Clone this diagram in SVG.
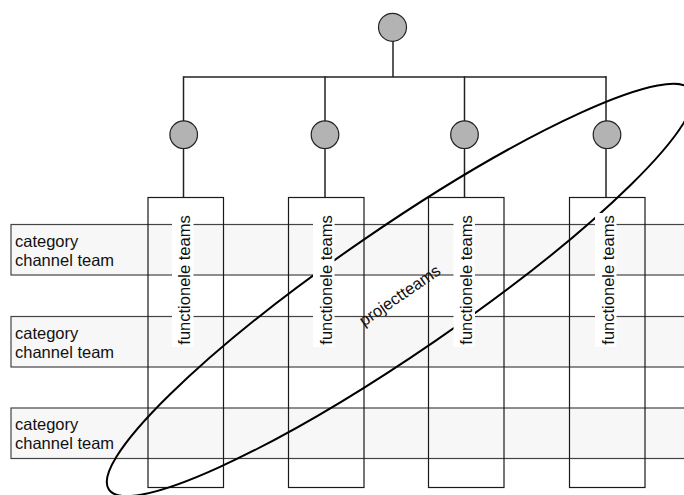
<svg xmlns="http://www.w3.org/2000/svg" width="684" height="495" viewBox="0 0 684 495">
  <style>
    .band { fill: #f7f7f7; stroke: #444; stroke-width: 1.2; }
    .box { fill: none; stroke: #1a1a1a; stroke-width: 1.2; }
    .conn { fill: none; stroke: #222; stroke-width: 1.5; }
    .dot { fill: #b3b3b3; stroke: #222; stroke-width: 1.2; }
    .lbl { font-family: "Liberation Sans", Arial, sans-serif; font-size: 16.5px; fill: #111; }
    .vbg { fill: #fff; }
    .loop { fill: none; stroke: #000; stroke-width: 2; }
  </style>
  <rect width="684" height="495" fill="#fff"/>

  <g id="band1"><rect class="band" x="11" y="224.5" width="690" height="50.5"/>
    <text class="lbl" x="15" y="246.5">category</text><text class="lbl" x="15" y="265.5">channel team</text></g>
  <g id="band2"><rect class="band" x="11" y="316.5" width="690" height="50.5"/>
    <text class="lbl" x="15" y="338.5">category</text><text class="lbl" x="15" y="357.5">channel team</text></g>
  <g id="band3"><rect class="band" x="11" y="408" width="690" height="50.5"/>
    <text class="lbl" x="15" y="430">category</text><text class="lbl" x="15" y="449">channel team</text></g>

  <g id="connectors">
    <line class="conn" x1="393" y1="41" x2="393" y2="77"/>
    <line class="conn" x1="183.5" y1="77" x2="606.5" y2="77"/>
    <line class="conn" x1="183.5" y1="76.3" x2="183.5" y2="198"/>
    <line class="conn" x1="325" y1="76.3" x2="325" y2="198"/>
    <line class="conn" x1="464.5" y1="76.3" x2="464.5" y2="198"/>
    <line class="conn" x1="606" y1="76.3" x2="606" y2="198"/>
  </g>

  <g id="root"><circle class="dot" cx="392.5" cy="27.3" r="14"/></g>
  <g id="mgr1"><circle class="dot" cx="183.7" cy="134.7" r="13.8"/></g>
  <g id="mgr2"><circle class="dot" cx="325" cy="134.7" r="13.8"/></g>
  <g id="mgr3"><circle class="dot" cx="464.5" cy="134.7" r="13.8"/></g>
  <g id="mgr4"><circle class="dot" cx="607" cy="134.7" r="13.8"/></g>

  <g id="col1"><rect class="box" x="148" y="197.5" width="75.5" height="290"/></g>
  <g id="col2"><rect class="box" x="288.5" y="197.5" width="75.5" height="290"/></g>
  <g id="col3"><rect class="box" x="428.5" y="197.5" width="75.5" height="290"/></g>
  <g id="col4"><rect class="box" x="569.5" y="197.5" width="75.5" height="290"/></g>

  <g id="projectteams">
    <ellipse class="loop" cx="400" cy="290" rx="353" ry="62" transform="rotate(-34.45 400 290)"/>
    <text class="lbl" x="0" y="0" text-anchor="middle" transform="translate(403 300) rotate(-34.5)">projectteams</text>
  </g>

  <g id="label1"><rect class="vbg" x="172" y="213" width="21.5" height="134"/>
    <text class="lbl" text-anchor="middle" transform="translate(190 280) rotate(-90)">functionele teams</text></g>
  <g id="label2"><rect class="vbg" x="313" y="213" width="21.5" height="134"/>
    <text class="lbl" text-anchor="middle" transform="translate(331.5 280) rotate(-90)">functionele teams</text></g>
  <g id="label3"><rect class="vbg" x="453.5" y="213" width="21.5" height="134"/>
    <text class="lbl" text-anchor="middle" transform="translate(472 280) rotate(-90)">functionele teams</text></g>
  <g id="label4"><rect class="vbg" x="595" y="213" width="21.5" height="134"/>
    <text class="lbl" text-anchor="middle" transform="translate(613.5 280) rotate(-90)">functionele teams</text></g>
</svg>
